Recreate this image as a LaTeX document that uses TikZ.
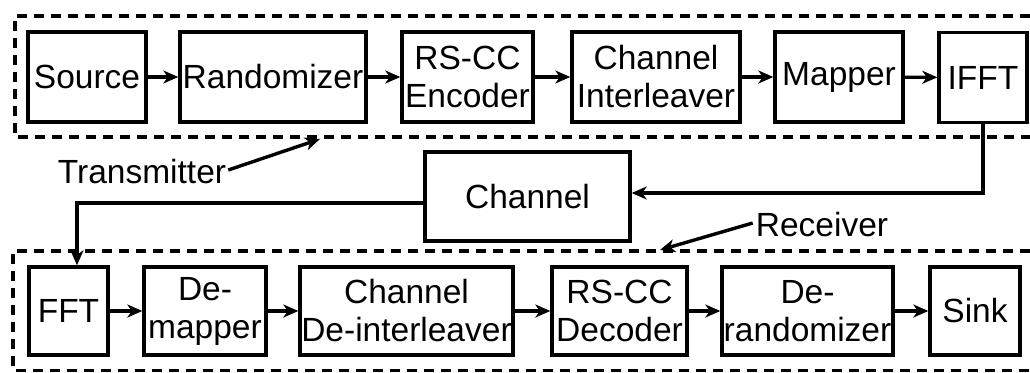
\documentclass[tikz,border=0pt]{standalone}
\usepackage{fontspec}
\setmainfont{Liberation Sans}
\usetikzlibrary{arrows.meta}
\tikzset{
  blk/.style={draw, line width=3.4pt, inner sep=0pt, align=center,
    font=\fontsize{33.5}{38}\selectfont},
  arr/.style={line width=3.4pt, -{Stealth[length=15pt,width=13pt,inset=4.5pt]}},
  dbox/.style={line width=3.2pt, dash pattern=on 10pt off 7pt},
  lbl/.style={font=\fontsize{33.5}{38}\selectfont, inner sep=0pt}
}
\begin{document}
\begin{tikzpicture}[x=1pt,y=1pt]
\useasboundingbox (0,0) rectangle (1030,-372);
% dashed groups
\draw[dbox] (1030,-16) -- (15,-16) -- (15,-137) -- (1030,-137);
\draw[dbox] (1030,-251) -- (13,-251) -- (13,-370.5) -- (1030,-370.5);
% transmitter row
\node[blk, minimum width=118pt, minimum height=90pt] (src) at (87,-77) {Source};
\node[blk, minimum width=186pt, minimum height=90pt] (rnd) at (273,-77) {Randomizer};
\node[blk, minimum width=131pt, minimum height=90pt] (enc) at (467.5,-77) {RS-CC\\Encoder};
\node[blk, minimum width=168pt, minimum height=90pt] (intl) at (656,-77) {Channel\\Interleaver};
\node[blk, minimum width=128pt, minimum height=90pt] (map) at (839,-77) {Mapper};
\node[blk, minimum width=88pt, minimum height=90pt] (ifft) at (983,-77.5) {IFFT};
% channel
\node[blk, minimum width=205pt, minimum height=89pt] (chan) at (527.5,-196.5) {Channel};
% receiver row
\node[blk, minimum width=79pt, minimum height=88pt] (fft) at (68.5,-311) {FFT};
\node[blk, minimum width=122pt, minimum height=88pt] (dmap) at (205,-311) {De-\\mapper};
\node[blk, minimum width=213pt, minimum height=88pt] (dint) at (406.5,-311) {Channel\\De-interleaver};
\node[blk, minimum width=135pt, minimum height=88pt] (dec) at (619.5,-311) {RS-CC\\Decoder};
\node[blk, minimum width=171pt, minimum height=88pt] (drnd) at (807.5,-311) {De-\\randomizer};
\node[blk, minimum width=90pt, minimum height=88pt] (sink) at (975,-311) {Sink};
% labels
\node[lbl] (tx) at (142,-172) {Transmitter};
\node[lbl] (rx) at (822,-225) {Receiver};
\coordinate (txt) at (320,-139);
\coordinate (rxt) at (660,-250);
% connectors
\draw[arr] (src) -- (rnd);
\draw[arr] (rnd) -- (enc);
\draw[arr] (enc) -- (intl);
\draw[arr] (intl) -- (map);
\draw[arr] (map) -- (ifft);
\coordinate (c0) at (983,-193);
\draw[arr] (ifft.south) -- (c0) -- (chan.east |- c0);
\coordinate (c1) at (77,-203);
\draw[arr] (chan.west |- c1) -- (c1) -- (c1 |- fft.north);
\draw[arr] (fft) -- (dmap);
\draw[arr] (dmap) -- (dint);
\draw[arr] (dint) -- (dec);
\draw[arr] (dec) -- (drnd);
\draw[arr] (drnd) -- (sink);
\draw[arr] (tx.east) ++(2,2) -- (txt);
\draw[arr] (rx.west) ++(-3,2) -- (rxt);
\end{tikzpicture}
\end{document}
